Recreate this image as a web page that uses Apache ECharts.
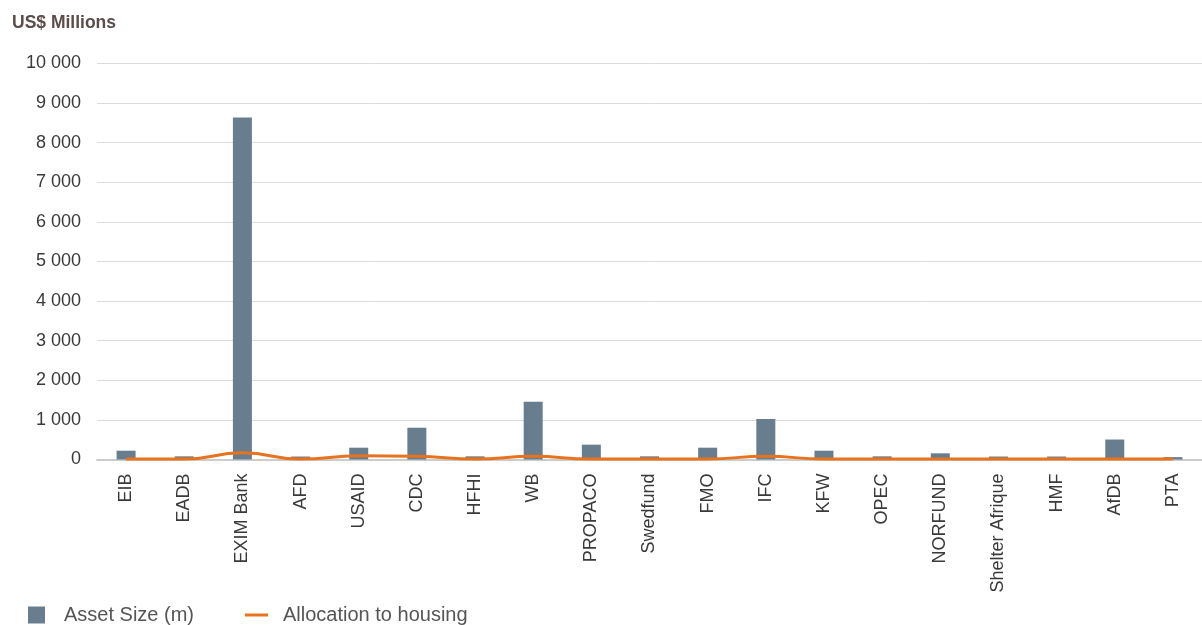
<!DOCTYPE html>
<html>
<head>
<meta charset="utf-8">
<script src="https://cdn.jsdelivr.net/npm/echarts@6/dist/echarts.min.js"></script>
<style>
  html, body { margin: 0; padding: 0; background: #fff; }
  #chart { width: 1202px; height: 625px; }
</style>
</head>
<body>
<div id="chart"></div>
<script>
// lenders on the x axis
const categories = ['EIB', 'EADB', 'EXIM Bank', 'AFD', 'USAID', 'CDC', 'HFHI', 'WB', 'PROPACO', 'Swedfund',
  'FMO', 'IFC', 'KFW', 'OPEC', 'NORFUND', 'Shelter Afrique', 'HMF', 'AfDB', 'PTA'];
// US$ millions
const assetSize = [222, 80, 8635, 75, 298, 802, 80, 1459, 374, 80, 298, 1022, 222, 80, 156, 75, 75, 504, 60];
const housingAllocation = [10, 10, 170, 10, 95, 85, 10, 80, 10, 10, 10, 85, 10, 10, 10, 10, 10, 10, 10];
const yTicks = { min: 0, max: 10000, interval: 1000 };

// no narrow font installed, so sizes are cut down to match the text widths
const font = "'Liberation Sans Narrow', 'Arial Narrow', 'Liberation Sans', sans-serif";

const myChart = echarts.init(document.getElementById('chart'));
myChart.setOption({
  animation: false,
  title: {
    text: 'US$ Millions',
    left: 7,
    top: 9,
    textStyle: { fontFamily: font, fontSize: 17.5, fontWeight: 'bold', color: '#5b4d4b' }
  },
  legend: [
    {
      data: [{ name: 'Asset Size (m)', icon: 'rect' }],
      left: 28,
      top: 605,
      padding: 0,
      itemWidth: 17,
      itemHeight: 17,
      textStyle: { fontFamily: font, fontSize: 20, color: '#555', padding: [0, 0, 0, 14] }
    },
    {
      data: [{ name: 'Allocation to housing', icon: 'rect' }],
      left: 245,
      top: 605,
      padding: 0,
      itemWidth: 23,
      itemHeight: 3,
      textStyle: { fontFamily: font, fontSize: 20, color: '#555', padding: [0, 0, 0, 10] }
    }
  ],
  grid: {
    left: 97,
    top: 63.3,
    width: 1115,
    bottom: 165.5,
    containLabel: false
  },
  xAxis: {
    type: 'category',
    data: categories,
    axisLine: { lineStyle: { color: '#cccccc', width: 2 } },
    axisTick: { show: false },
    axisLabel: {
      rotate: 90,
      margin: 14,
      interval: 0,
      fontFamily: font,
      fontSize: 18,
      color: '#3a3a3a'
    }
  },
  yAxis: {
    type: 'value',
    min: yTicks.min,
    max: yTicks.max,
    interval: yTicks.interval,
    axisLine: { show: false },
    axisTick: { show: false },
    splitLine: { lineStyle: { color: '#dcdcdc', width: 1 } },
    axisLabel: {
      margin: 16,
      padding: [5, 0, 0, 0],
      fontFamily: font,
      fontSize: 18,
      color: '#3a3a3a',
      formatter: v => String(v).replace(/\B(?=(\d{3})+(?!\d))/g, ' ')
    }
  },
  series: [
    {
      name: 'Asset Size (m)',
      type: 'bar',
      barWidth: 19,
      itemStyle: { color: '#687e8e' },
      data: assetSize
    },
    {
      name: 'Allocation to housing',
      type: 'line',
      smooth: true,
      showSymbol: false,
      symbol: 'none',
      z: 5,
      itemStyle: { color: '#e8731f' },
      lineStyle: { color: '#e8731f', width: 3 },
      data: housingAllocation
    }
  ]
});
window.addEventListener('resize', () => {
  myChart.resize();
});
</script>
</body>
</html>
